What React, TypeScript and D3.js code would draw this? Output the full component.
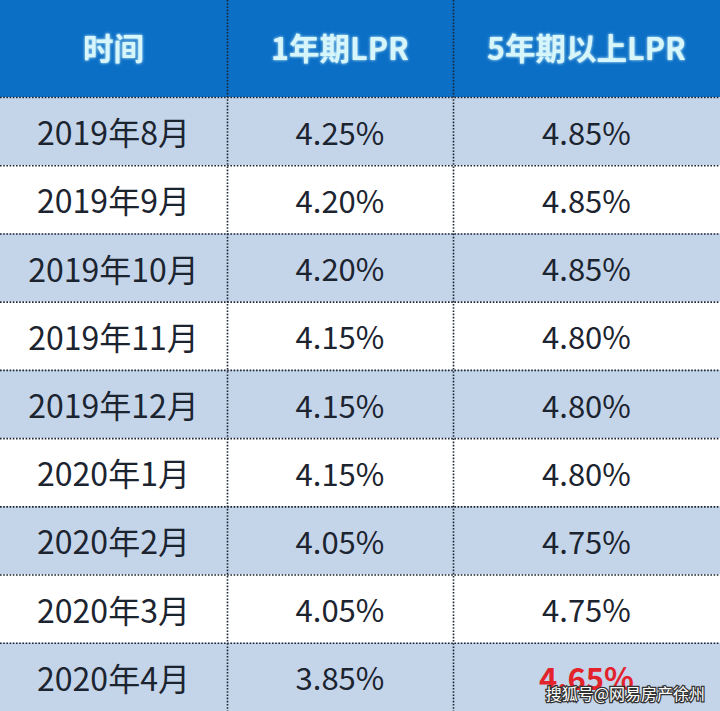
import React from "react";
import * as d3 from "d3";

const WIDTH = 720;
const HEIGHT = 711;
const HEADER_H = 97;

const headers = ["时间", "1年期LPR", "5年期以上LPR"];
const months = [
  "2019年8月",
  "2019年9月",
  "2019年10月",
  "2019年11月",
  "2019年12月",
  "2020年1月",
  "2020年2月",
  "2020年3月",
  "2020年4月",
];
const lpr1y = [4.25, 4.2, 4.2, 4.15, 4.15, 4.15, 4.05, 4.05, 3.85];
const lpr5y = [4.85, 4.85, 4.85, 4.8, 4.8, 4.8, 4.75, 4.75, 4.65];
const colEdges = [0, 227, 453, 720];
const FONT = "'Noto Sans CJK SC', 'Noto Sans', sans-serif";

const App = () => {
  const yScale = d3.scaleBand().domain(months).range([HEADER_H, HEIGHT]).padding(0);
  const colX = (i: number) => (colEdges[i] + colEdges[i + 1]) / 2;
  const fmt = d3.format(".2f");
  const last = months.length - 1;

  return (
    <svg width={WIDTH} height={HEIGHT} style={{ position: "absolute", left: 0, top: 0 }}>
      <defs>
        <filter id="glow" x="-10%" y="-30%" width="120%" height="160%">
          <feGaussianBlur stdDeviation="1.5" result="b" />
          <feMerge>
            <feMergeNode in="b" />
            <feMergeNode in="SourceGraphic" />
          </feMerge>
        </filter>
      </defs>
      <rect x={0} y={0} width={WIDTH} height={HEADER_H} fill="#0b6fc6" />
      {headers.map((h, i) => (
        <text
          key={h}
          x={colX(i)}
          y={HEADER_H / 2 - 2}
          textAnchor="middle"
          dominantBaseline="central"
          fontFamily={FONT}
          fontWeight="bold"
          fontSize={30.5}
          fill="#d6f6fb"
          filter="url(#glow)"
        >
          {h}
        </text>
      ))}
      {months.map((m, i) => {
        const y = yScale(m) as number;
        const cy = y + yScale.bandwidth() / 2;
        return (
          <g key={m}>
            <rect x={0} y={y} width={WIDTH} height={yScale.bandwidth()} fill={i % 2 === 0 ? "#c4d5ea" : "#ffffff"} />
            <line x1={0} x2={WIDTH} y1={y + 0.5} y2={y + 0.5} stroke="#1c2633" strokeWidth={1.6} strokeDasharray="1.6 1.6" />
            <text x={colX(0)} y={cy} textAnchor="middle" dominantBaseline="central" fontFamily={FONT} fontSize={32} fill="#1c2430">
              {m}
            </text>
            <text x={colX(1)} y={cy} textAnchor="middle" dominantBaseline="central" fontFamily={FONT} fontSize={31} fill="#1c2430">
              {fmt(lpr1y[i])}%
            </text>
            <text
              x={colX(2)}
              y={cy}
              textAnchor="middle"
              dominantBaseline="central"
              fontFamily={FONT}
              fontSize={31}
              fontWeight={i === last ? "bold" : "normal"}
              fill={i === last ? "#e3232c" : "#1c2430"}
            >
              {fmt(lpr5y[i])}%
            </text>
          </g>
        );
      })}
      {colEdges.slice(1, 3).map((x) => (
        <line key={x} x1={x + 0.5} x2={x + 0.5} y1={0} y2={HEIGHT} stroke="#1c2633" strokeWidth={1.6} strokeDasharray="1.6 1.6" />
      ))}
      <text
        x={705}
        y={700}
        textAnchor="end"
        fontFamily={FONT}
        fontSize={16}
        fill="#ffffff"
        stroke="#333"
        strokeWidth={2.5}
        paintOrder="stroke"
      >
        搜狐号@网易房产徐州
      </text>
    </svg>
  );
};

export default App;
